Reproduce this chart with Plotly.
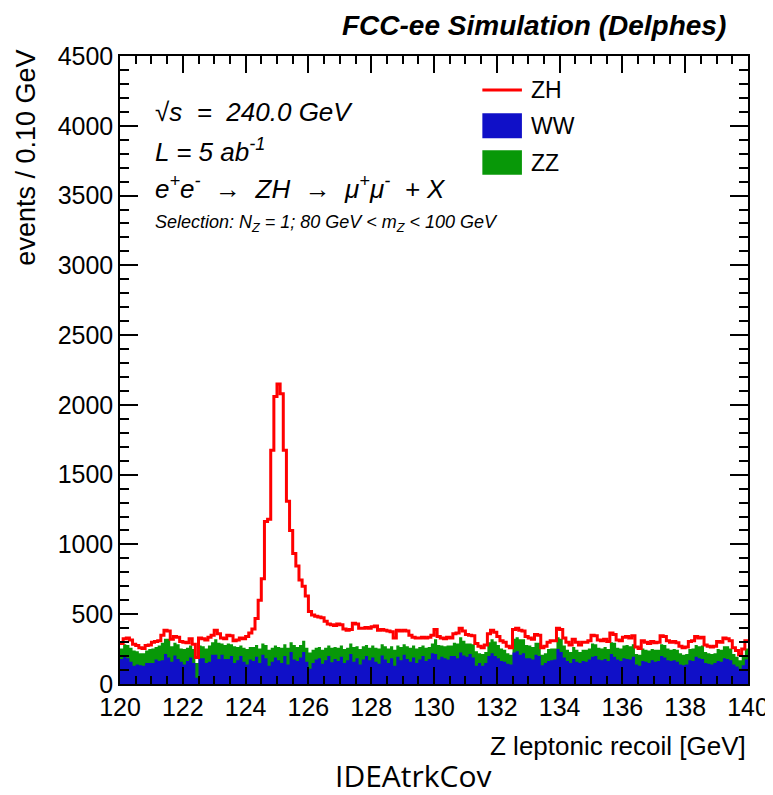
import numpy as np
import plotly.graph_objects as go

# ---------------- data ----------------
x_min, x_max, n_bins = 120.0, 140.0, 200

WW = [
180, 200, 185, 160, 130, 140, 135, 130, 150, 150,
150, 175, 165, 170, 215, 190, 160, 205, 180, 160,
140, 165, 190, 150, 45, 185, 185, 150, 160, 210,
210, 180, 210, 180, 180, 200, 150, 170, 200, 160,
140, 175, 165, 195, 150, 210, 185, 130, 160, 190,
170, 150, 200, 140, 230, 175, 165, 190, 230, 160,
110, 150, 175, 185, 145, 170, 200, 155, 180, 165,
195, 150, 170, 215, 160, 185, 140, 175, 200, 170,
190, 160, 145, 205, 175, 150, 185, 130, 195, 170,
210, 180, 160, 190, 150, 175, 200, 165, 180, 220,
215, 175, 195, 185, 175, 200, 200, 185, 225, 205,
195, 215, 190, 130, 150, 130, 150, 200, 220, 200,
185, 165, 160, 145, 140, 225, 235, 210, 220, 185,
185, 175, 210, 200, 135, 150, 165, 170, 175, 250,
230, 190, 165, 150, 180, 160, 150, 165, 160, 175,
195, 200, 175, 170, 180, 165, 215, 195, 175, 165,
185, 180, 175, 195, 140, 130, 165, 160, 150, 170,
160, 165, 200, 190, 170, 165, 170, 160, 140, 135,
140, 170, 165, 195, 185, 180, 150, 145, 140, 150,
165, 160, 185, 180, 170, 140, 125, 110, 135, 175]

ZZ = [
75, 85, 95, 100, 110, 95, 85, 90, 90, 100,
105, 90, 110, 125, 110, 135, 110, 90, 105, 95,
110, 95, 85, 100, 105, 90, 85, 105, 115, 90,
110, 115, 80, 100, 110, 85, 120, 95, 75, 100,
110, 90, 100, 85, 105, 80, 95, 115, 100, 85,
95, 110, 85, 120, 70, 105, 100, 90, 80, 100,
115, 95, 85, 80, 100, 90, 75, 105, 85, 95,
80, 100, 90, 75, 105, 85, 110, 95, 80, 90,
85, 100, 110, 80, 95, 105, 85, 115, 80, 95,
75, 90, 100, 85, 105, 90, 75, 95, 85, 70,
105, 105, 80, 85, 100, 75, 95, 105, 110, 105,
95, 75, 95, 105, 70, 85, 80, 100, 100, 105,
95, 90, 85, 75, 70, 100, 100, 110, 100, 95,
90, 90, 85, 95, 75, 70, 85, 85, 80, 85,
95, 85, 80, 80, 85, 85, 80, 80, 85, 80,
95, 85, 85, 85, 85, 85, 85, 100, 85, 90,
90, 100, 95, 90, 75, 80, 90, 85, 90, 80,
85, 80, 85, 90, 85, 80, 80, 85, 80, 75,
75, 80, 90, 85, 85, 95, 80, 75, 75, 70,
85, 85, 85, 90, 85, 75, 70, 60, 70, 80]

ZH = [
35, 40, 50, 55, 45, 40, 40, 35, 35, 30,
45, 40, 35, 55, 60, 55, 50, 45, 50, 50,
50, 35, 50, 35, 40, 55, 55, 60, 60, 50,
65, 65, 40, 45, 60, 60, 40, 50, 55, 65,
90, 100, 130, 190, 345, 465, 885, 935, 1415, 1785,
1885, 1820, 1390, 1050, 800, 655, 580, 465, 390, 370,
295, 250, 225, 215, 230, 190, 155, 165, 155, 170,
150, 145, 125, 100, 170, 160, 150, 130, 125, 140,
135, 155, 130, 105, 115, 125, 105, 85, 110, 115,
100, 110, 90, 60, 75, 65, 60, 70, 70, 60,
70, 60, 55, 55, 60, 55, 65, 75, 65, 70,
65, 60, 60, 55, 50, 45, 50, 60, 65, 65,
60, 55, 55, 50, 50, 65, 65, 65, 60, 60,
55, 55, 60, 55, 50, 50, 50, 55, 55, 65,
65, 55, 55, 50, 55, 55, 50, 55, 55, 55,
60, 60, 55, 55, 55, 55, 65, 60, 55, 55,
60, 60, 60, 60, 50, 45, 55, 55, 50, 55,
50, 55, 60, 60, 55, 55, 55, 50, 50, 50,
50, 55, 55, 60, 60, 60, 50, 50, 50, 50,
55, 55, 60, 55, 55, 45, 45, 40, 45, 55]

y_ticks = [0, 500, 1000, 1500, 2000, 2500, 3000, 3500, 4000, 4500]
x_ticks = [120, 122, 124, 126, 128, 130, 132, 134, 136, 138, 140]

# ---------------- build stacked step curves ----------------
edges = np.linspace(x_min, x_max, n_bins + 1)
ww = np.array(WW, dtype=float)
wwzz = ww + np.array(ZZ, dtype=float)
total = wwzz + np.array(ZH, dtype=float)

def step(vals):
    return list(vals) + [vals[-1]]

BLUE = "#1010c8"
GREEN = "#089808"
RED = "#ff0000"

fig = go.Figure()
fig.add_trace(go.Scatter(x=edges, y=step(wwzz), mode="lines", line=dict(shape="hv", width=0, color=GREEN),
                         fill="tozeroy", fillcolor=GREEN, name="ZZ", hoverinfo="skip"))
fig.add_trace(go.Scatter(x=edges, y=step(ww), mode="lines", line=dict(shape="hv", width=0, color=BLUE),
                         fill="tozeroy", fillcolor=BLUE, name="WW", hoverinfo="skip"))
fig.add_trace(go.Scatter(x=edges, y=step(total), mode="lines", line=dict(shape="hv", width=3, color=RED),
                         name="ZH", hoverinfo="skip"))

FONT = "Liberation Sans, Arial, Helvetica, sans-serif"

axis_common = dict(showline=True, linecolor="black", linewidth=1.5, mirror="ticks",
                   ticks="inside", tickcolor="black", tickwidth=1.5, showgrid=False,
                   zeroline=False, tickfont=dict(family=FONT, size=25, color="black"))

fig.update_xaxes(range=[x_min, x_max], tickvals=x_ticks, ticklen=17,
                 minor=dict(ticks="inside", dtick=0.5, ticklen=8, tickwidth=1.5, tickcolor="black"),
                 **axis_common)
fig.update_yaxes(range=[0, 4500], tickvals=y_ticks, ticklen=18,
                 minor=dict(ticks="inside", dtick=100, ticklen=9, tickwidth=1.5, tickcolor="black"),
                 **axis_common)

NB = "\u00a0"
annotations = [
    dict(text="<b><i>FCC-ee Simulation (Delphes)</i></b>", x=0.968, y=1.049, xref="paper", yref="paper",
         xanchor="right", yanchor="middle", showarrow=False, font=dict(family=FONT, size=28, color="black")),
    dict(text="events / 0.10 GeV", x=-0.149, y=1.014, xref="paper", yref="paper", textangle=-90,
         xanchor="center", yanchor="top", showarrow=False, font=dict(family=FONT, size=27, color="black")),
    dict(text="Z leptonic recoil [GeV]", x=1.0, y=-0.099, xref="paper", yref="paper",
         xanchor="right", yanchor="middle", showarrow=False, font=dict(family=FONT, size=26, color="black")),
    dict(text="IDEAtrkCov", x=0.467, y=-0.146, xref="paper", yref="paper",
         xanchor="center", yanchor="middle", showarrow=False,
         font=dict(family="Open Sans, sans-serif", size=30, color="black")),
    dict(text=f"<i>√s{NB}{NB}={NB}{NB}240.0 GeV</i>", x=0.053, y=0.911, xref="paper", yref="paper",
         xanchor="left", yanchor="middle", showarrow=False, font=dict(family=FONT, size=26, color="black")),
    dict(text="<i>L = 5 ab<sup>-1</sup></i>", x=0.053, y=0.849, xref="paper", yref="paper",
         xanchor="left", yanchor="middle", showarrow=False, font=dict(family=FONT, size=26, color="black")),
    dict(text=f"<i>e<sup>+</sup>e<sup>-</sup>{NB}{NB}→{NB}{NB}ZH{NB}{NB}→{NB}{NB}μ<sup>+</sup>μ<sup>-</sup>{NB}{NB}+{NB}X</i>",
         x=0.053, y=0.791, xref="paper", yref="paper", xanchor="left", yanchor="middle", showarrow=False,
         font=dict(family=FONT, size=26, color="black")),
    dict(text="<i>Selection: N<sub>Z</sub> = 1; 80 GeV &lt; m<sub>Z</sub> &lt; 100 GeV</i>", x=0.053, y=0.733,
         xref="paper", yref="paper", xanchor="left", yanchor="middle", showarrow=False,
         font=dict(family=FONT, size=18, color="black")),
    dict(text="ZH", x=0.652, y=0.946, xref="paper", yref="paper", xanchor="left", yanchor="middle",
         showarrow=False, font=dict(family=FONT, size=23, color="black")),
    dict(text="WW", x=0.652, y=0.889, xref="paper", yref="paper", xanchor="left", yanchor="middle",
         showarrow=False, font=dict(family=FONT, size=23, color="black")),
    dict(text="ZZ", x=0.652, y=0.830, xref="paper", yref="paper", xanchor="left", yanchor="middle",
         showarrow=False, font=dict(family=FONT, size=23, color="black")),
]

shapes = [
    dict(type="line", xref="paper", yref="paper", x0=0.577, x1=0.64, y0=0.946, y1=0.946,
         line=dict(color=RED, width=3)),
    dict(type="rect", xref="paper", yref="paper", x0=0.577, x1=0.64, y0=0.869, y1=0.909,
         fillcolor=BLUE, line=dict(width=0)),
    dict(type="rect", xref="paper", yref="paper", x0=0.577, x1=0.64, y0=0.811, y1=0.850,
         fillcolor=GREEN, line=dict(width=0)),
]

fig.update_layout(width=773, height=795, margin=dict(l=112, r=25, t=48, b=119),
                  paper_bgcolor="white", plot_bgcolor="white", showlegend=False,
                  annotations=annotations, shapes=shapes,
                  font=dict(family=FONT, color="black"))

fig.write_html("out.html")
